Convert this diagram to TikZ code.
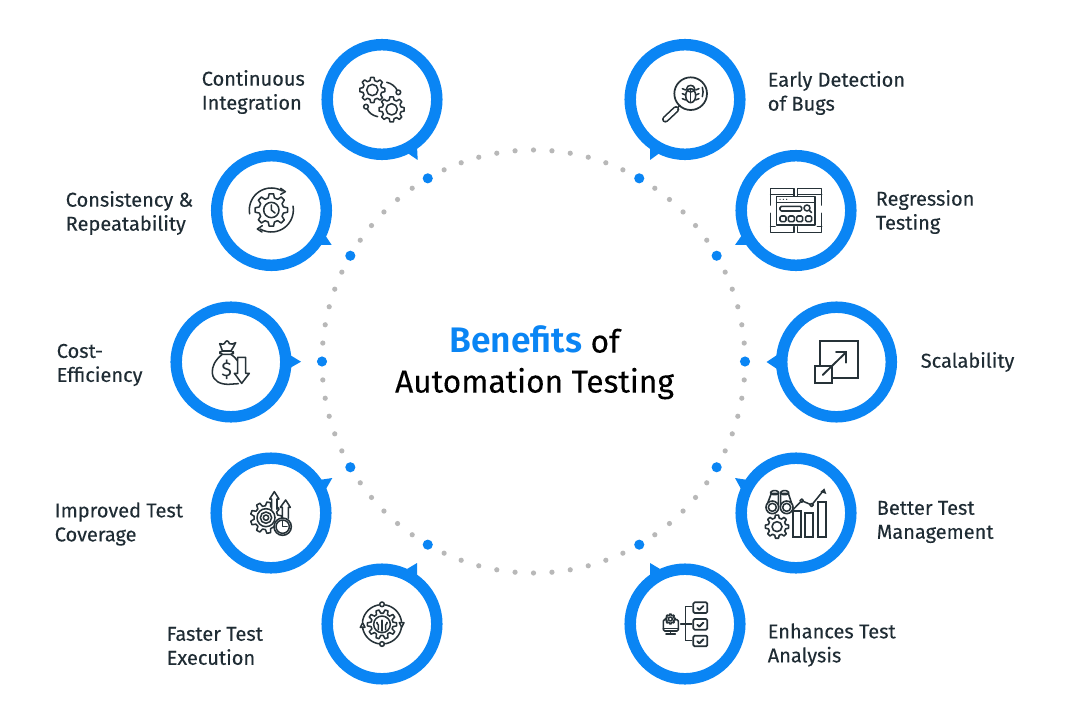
\documentclass[tikz,border=0pt]{standalone}
\usepackage{fontspec}
\setmainfont{Fira Sans}
\newfontfamily\labelfont[FakeBold=0.2]{Fira Sans}
\newfontfamily\titlefont[FakeBold=0.15]{Fira Sans}
\newfontfamily\titleboldfont{Fira Sans SemiBold}
\definecolor{ringblue}{HTML}{0A85F4}
\definecolor{dotgray}{HTML}{B8B8B8}
\definecolor{inkdark}{HTML}{1F2C34}
\definecolor{icondark}{HTML}{263238}
\tikzset{
  ringnode/.style={circle,draw=ringblue,line width=8.6pt,fill=white,minimum size=82.2pt,inner sep=0pt,outer sep=0pt},
  tailshape/.style={fill=ringblue,draw=none},
  bluedot/.style={circle,fill=ringblue,draw=none,minimum size=7.6pt,inner sep=0pt},
  graydot/.style={circle,fill=dotgray,draw=none,minimum size=3.9pt,inner sep=0pt},
  benefit/.style={anchor=west,align=left,text=inkdark,inner sep=0pt,font=\labelfont\fontsize{15}{18}\selectfont},
  icon/.style={draw=icondark,line width=1.15pt,line join=round,line cap=round},
  iconfill/.style={icon,fill=white},
  zoomed/.style={shift={(#1)},x=.25pt,y=-.25pt}
}
% cx cy R teeth
\newcommand{\gearpath}[4]{%
  ({#1+0.76*#3*cos(-0.32*360/#4)},{#2+0.76*#3*sin(-0.32*360/#4)})
  \foreach \k in {1,...,#4}{
    -- ({#1+#3*cos((\k-1-0.17)*360/#4)},{#2+#3*sin((\k-1-0.17)*360/#4)})
    -- ({#1+#3*cos((\k-1+0.17)*360/#4)},{#2+#3*sin((\k-1+0.17)*360/#4)})
    -- ({#1+0.76*#3*cos((\k-1+0.32)*360/#4)},{#2+0.76*#3*sin((\k-1+0.32)*360/#4)})
    -- ({#1+0.76*#3*cos((\k-0.32)*360/#4)},{#2+0.76*#3*sin((\k-0.32)*360/#4)})
  } -- cycle}
% cx cy r a b : arc in screen-clockwise degrees
\newcommand{\arcpts}[5]{plot[smooth,samples=24,domain=#4:#5] ({#1+#3*cos(\x)},{#2+#3*sin(\x)})}
\begin{document}
\begin{tikzpicture}[x=.75pt,y=-.75pt]
\useasboundingbox (0,0) rectangle (1077,727);
\fill[white] (0,0) rectangle (1077,727);
% dotted circle
\foreach \a in {5,10,...,355}{
  \node[graydot] (g\a) at ({533.5+211.5*cos(\a)},{361.5+211.5*sin(\a)}) {};
}
\foreach \a in {0,30,60,120,150,180,210,240,300,330}{
  \node[bluedot] (b\a) at ({533.5+211.5*cos(\a)},{361.5+211.5*sin(\a)}) {};
}
% tails
\fill[tailshape] (406,152)--(417.7,160)--(417,146)--cycle;
\fill[tailshape] (661,152)--(650,160)--(650,146)--cycle;
\fill[tailshape] (325,235)--(331.7,245)--(319,245)--cycle;
\fill[tailshape] (742,235)--(735,245)--(748,245)--cycle;
\fill[tailshape] (290,355)--(301,361.7)--(290,368)--cycle;
\fill[tailshape] (777,355)--(766.5,362)--(777,369)--cycle;
\fill[tailshape] (319,480)--(332.3,478)--(326,489)--cycle;
\fill[tailshape] (748,480)--(735,478)--(741,489)--cycle;
\fill[tailshape] (407,569)--(417,563)--(417,576)--cycle;
\fill[tailshape] (660,569)--(650,563)--(650,576)--cycle;
% rings
\node[ringnode] (c1) at (382,99.5) {};
\node[ringnode] (c2) at (685,99.5) {};
\node[ringnode] (c3) at (271.5,210.5) {};
\node[ringnode] (c4) at (796,210.5) {};
\node[ringnode] (c5) at (231,362) {};
\node[ringnode] (c6) at (836.5,362) {};
\node[ringnode] (c7) at (271,513) {};
\node[ringnode] (c8) at (796,513) {};
\node[ringnode] (c9) at (382,624) {};
\node[ringnode] (c10) at (685,624) {};
% title
\node[align=center,inner sep=0pt,text=black,font=\titlefont\fontsize{23.8}{30}\selectfont] (title) at (534.5,362.5)
  {{\titleboldfont\fontsize{26.6}{30}\selectfont\color{ringblue}Benefits} of\\Automation Testing};
% labels
\node[benefit] (t1) at (201.5,92) {Continuous\\Integration};
\node[benefit] (t2) at (767.5,93) {Early Detection\\of Bugs};
\node[benefit] (t3) at (65.5,213) {Consistency \&\\Repeatability};
\node[benefit] (t4) at (875.5,212) {Regression\\Testing};
\node[benefit] (t5) at (56.5,365) {Cost-\\Efficiency};
\node[benefit] (t6) at (920.5,362) {Scalability};
\node[benefit] (t7) at (54.5,524) {Improved Test\\Coverage};
\node[benefit] (t8) at (876.5,522) {Better Test\\Management};
\node[benefit] (t9) at (166.5,646) {Faster Test\\Execution};
\node[benefit] (t10) at (767.5,645) {Enhances Test\\Analysis};
% icon 1: gears
\begin{scope}[zoomed={310,30}]
  \draw[icon] \gearpath{187}{180}{38}{8};
  \draw[icon] (187,180) circle[radius=17];
  \draw[icon] \gearpath{245}{238}{38}{8};
  \draw[icon] (245,238) circle[radius=17];
  \draw[icon] (230,157) .. controls (245,160) and (256,170) .. (261,180);
  \draw[icon] (265,187) circle[radius=7];
  \draw[icon] (203,260) .. controls (188,257) and (176,248) .. (172,237);
  \draw[icon] (168,230) circle[radius=7];
\end{scope}
% icon 2: magnifier with bug
\begin{scope}[zoomed={620,30}]
  \draw[icon,line width=1.3pt] (212,191) circle[radius=49];
  \draw[icon] (180,226) -- (170,236);
  \draw[icon,line width=5pt] (168,238) -- (136,268);
  \draw[white,line width=2.6pt,line cap=round] (168,238) -- (136,268);
  \draw[icon] (212,176) ellipse[x radius=12,y radius=10];
  \draw[icon] (212,197) ellipse[x radius=15,y radius=21];
  \draw[icon] (212,178) -- (212,217);
  \foreach \yy in {180,195,210}{
    \draw[icon] (197,\yy) -- (187,\yy-4);
    \draw[icon] (227,\yy) -- (237,\yy-4);
  }
  \draw[icon] (247,172) .. controls (250,182) and (250,190) .. (247,200);
\end{scope}
% icon 3: clock gear
\begin{scope}[zoomed={210,145}]
  \draw[icon] \gearpath{184}{195}{49}{8};
  \draw[icon] (184,195) circle[radius=23];
  \draw[icon] (184,180) -- (184,195) -- (195,204);
  \draw[icon] \arcpts{184}{195}{66}{170}{300};
  \draw[icon] (212,130) -- (226,140) -- (212,148);
  \draw[icon] \arcpts{184}{195}{66}{-10}{120};
  \draw[icon] (157,242) -- (142,252) -- (156,261);
\end{scope}
% icon 4: browser windows
\begin{scope}[zoomed={730,145}]
  \draw[icon] (122,180) -- (122,130) -- (192,130) -- (192,152);
  \draw[icon] (122,148) -- (192,148);
  \draw[icon] (203,152) -- (203,130) -- (275,130) -- (275,180);
  \draw[icon] (203,148) -- (275,148);
  \draw[icon] (122,205) -- (122,262) -- (192,262) -- (192,245);
  \draw[icon] (122,245) -- (135,245);
  \draw[icon] (203,245) -- (203,262) -- (275,262) -- (275,205);
  \draw[icon] (262,245) -- (275,245);
  \draw[iconfill] (140,155) rectangle (255,240);
  \draw[icon] (140,172) -- (255,172);
  \foreach \xx in {150,160,170}{\fill[icondark] (\xx,163) circle[radius=2];}
  \draw[icon,rounded corners=1pt] (150,184) rectangle (215,198);
  \draw[icon] (231,189) circle[radius=9];
  \draw[icon] (238,196) -- (245,203);
  \foreach \xx in {150,175,200,227}{
    \draw[icon,rounded corners=1pt] (\xx,213) rectangle +(18,17);
  }
\end{scope}
% icon 5: money bag
\begin{scope}[zoomed={165,295}]
  \draw[icon] (172,178) .. controls (150,195) and (140,215) .. (142,235)
     .. controls (145,258) and (165,268) .. (190,268) -- (220,266);
  \draw[icon] (198,178) .. controls (207,185) and (213,190) .. (218,198);
  \draw[icon,rounded corners=2pt] (165,168) rectangle (205,178);
  \draw[icon] (172,167) .. controls (170,160) and (166,152) .. (164,146)
     .. controls (172,148) and (175,148) .. (178,146)
     .. controls (183,135) and (190,135) .. (193,146)
     .. controls (198,148) and (205,148) .. (212,143)
     .. controls (209,152) and (202,160) .. (198,167);
  \node[inner sep=0pt,text=icondark,font=\fontsize{15}{15}\selectfont] (dollar) at (185,223) {\$};
  \draw[iconfill] (218,187) -- (242,187) -- (242,235) -- (253,235) -- (230,265) -- (208,235) -- (218,235) -- cycle;
\end{scope}
% icon 6: scale
\begin{scope}[zoomed={740,295}]
  \draw[icon,line width=1.5pt,line cap=butt,line join=miter] (240,137) rectangle (353,250);
  \draw[iconfill,line width=1.6pt,line join=miter] (225,213) rectangle (277,265);
  \draw[icon,line width=1.4pt] (248,240) -- (318,172);
  \draw[icon,line width=1.4pt,line join=miter] (288,172) -- (318,172) -- (318,203);
\end{scope}
% icon 7: gear target clock
\begin{scope}[zoomed={205,450}]
  \draw[icon] \gearpath{183}{203}{47}{9};
  \draw[icon] (183,203) circle[radius=27];
  \draw[icon] (183,203) circle[radius=17];
  \draw[icon] (183,203) circle[radius=8];
  \draw[iconfill] (200,178) -- (200,147) -- (194,147) -- (208,125) -- (222,147) -- (216,147) -- (216,178);
  \draw[iconfill] (232,205) -- (232,172) -- (226,172) -- (242,150) -- (256,172) -- (250,172) -- (250,205);
  \draw[iconfill,line width=1.2pt] (233,230) circle[radius=26];
  \draw[icon] (233,230) circle[radius=20];
  \draw[icon] (233,212) -- (233,230) -- (246,230);
\end{scope}
% icon 8: binoculars, gear, bars
\begin{scope}[zoomed={730,450}]
  \draw[icon,line width=1.2pt] (109,170) -- (124,130) -- (145,130) -- (145,170);
  \draw[icon,line width=1.2pt] (152,170) -- (152,130) -- (175,130) -- (188,170);
  \draw[icon,rounded corners=2pt] (122,122) rectangle (146,134);
  \draw[icon,rounded corners=2pt] (152,122) rectangle (176,134);
  \draw[iconfill,line width=1.2pt] (127,172) circle[radius=19];
  \draw[icon] (127,172) circle[radius=12];
  \draw[iconfill,line width=1.2pt] (170,172) circle[radius=19];
  \draw[icon] (170,172) circle[radius=12];
  \draw[icon,line width=1.2pt] \gearpath{141}{230}{35}{8};
  \draw[icon,line width=1.2pt] (141,230) circle[radius=15];
  \draw[icon,line width=1.6pt,line join=miter] (188,262) -- (188,184) -- (212,184) -- (212,262) -- cycle;
  \draw[icon,line width=1.6pt,line join=miter] (225,262) -- (225,190) -- (250,190) -- (250,262) -- cycle;
  \draw[icon,line width=1.6pt,line join=miter] (263,262) -- (263,155) -- (288,155) -- (288,262) -- cycle;
  \draw[icon] (190,178) -- (215,152) -- (245,165) -- (280,122);
  \fill[icondark] (283,115) -- (289,132) -- (271,126) -- cycle;
  \draw[iconfill] (215,152) circle[radius=5];
  \draw[iconfill] (245,165) circle[radius=5];
\end{scope}
% icon 9: gear circuit
\begin{scope}[zoomed={315,535}]
  \draw[icon] \arcpts{201}{268}{59}{-80}{-8};
  \draw[icon] \arcpts{201}{268}{59}{8}{80};
  \draw[icon] \arcpts{201}{268}{59}{100}{172};
  \draw[icon] \arcpts{201}{268}{59}{188}{260};
  \draw[iconfill] (201,208) circle[radius=7];
  \draw[iconfill] (201,327) circle[radius=7];
  \draw[icon] (136,277) -- (143,263) -- (150,277) -- cycle;
  \draw[icon] (253,263) -- (260,277) -- (267,263) -- cycle;
  \draw[icon] \gearpath{201}{268}{44}{10};
  \draw[icon] (201,268) circle[radius=25];
  \draw[icon] (201,288) -- (201,258);
  \draw[icon] (190,284) -- (190,270) -- (186,265);
  \draw[icon] (212,284) -- (212,270) -- (216,265);
  \fill[icondark] (201,256) circle[radius=3];
  \fill[icondark] (186,263) circle[radius=3];
  \fill[icondark] (216,263) circle[radius=3];
\end{scope}
% icon 10: monitor checklist
\begin{scope}[zoomed={620,535}]
  \draw[icon,rounded corners=1pt,line width=1.2pt] (130,254) rectangle (175,288);
  \draw[icon] (130,280) -- (175,280);
  \draw[icon] (152,288) -- (152,296);
  \draw[icon] (138,297) -- (166,297);
  \draw[iconfill] \gearpath{151}{252}{15}{8};
  \draw[icon] (151,252) circle[radius=6];
  \draw[icon,line width=1.2pt] (182,267) -- (215,267);
  \draw[icon,line width=1.2pt,line join=miter] (215,215) -- (197,215) -- (197,317) -- (215,317);
  \foreach \yy in {202,252,302}{
    \draw[icon,line width=1.3pt,rounded corners=1pt] (220,\yy) rectangle +(42,32);
    \draw[icon,line width=1.4pt] (232,\yy+17) -- (238,\yy+23) -- (250,\yy+11);
  }
\end{scope}
\end{tikzpicture}
\end{document}
